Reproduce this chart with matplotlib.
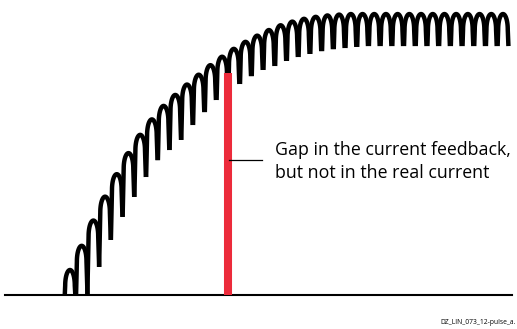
import numpy as np
import matplotlib.pyplot as plt

# peak of each current pulse (% of final current), one value per 12-pulse ripple
peak_current = [8.9, 17.5, 26.5, 35.0, 43.0, 50.5, 57.0, 62.5, 67.3, 71.2,
                74.9, 78.4, 81.8, 84.8, 87.6, 90.1, 92.3, 94.3, 96.0, 97.3,
                98.3, 99.0, 99.5, 99.8, 100, 100, 100, 100, 100, 100,
                100, 100, 100, 100, 100, 100, 100, 100]
# lowest point reached by the falling edge of each pulse
trough_current = [0, 0, 10.0, 19.6, 27.8, 34.9, 42.0, 48.0, 51.6, 55.2,
                  60.5, 65.1, 69.4, 72.2, 75.1, 77.9, 80.1, 81.5, 83.3, 84.7,
                  85.8, 86.8, 87.5, 87.9, 88.3, 88.6, 88.6, 88.6, 88.6, 88.6,
                  88.6, 88.6, 88.6, 88.6, 88.6, 88.6, 88.6, 88.6]

gap_time = 13.5      # pulse position of the feedback gap
gap_level = 79.0     # current level where the gap marker ends
label = "Gap in the current feedback,\nbut not in the real current"
code = "DZ_LIN_073_12-pulse_a."

pulse = np.arange(len(peak_current))

fig = plt.figure(figsize=(5.17, 3.29), dpi=100)
ax = fig.add_axes([0, 0, 1, 1])
ax.set_xlim(-5.98, 38.2)
ax.set_ylim(-12.1, 105.0)
ax.axis("off")

# baseline
ax.axhline(0, xmin=0.01, xmax=0.99, color="black", lw=1.5, zorder=1)

# arches
a = 0.41
h = 5.5
phi = np.linspace(-np.pi / 2, np.pi / 2, 40)
for k in pulse:
    p = peak_current[k]
    right_end = max(trough_current[k], 0)
    left_end = 0 if k == 0 else max(trough_current[k - 1], 0)
    top_x = pulse[k] + a * np.sin(phi)
    top_y = np.clip(p - h * (1 - np.cos(phi)), 0, None)
    lean_l = 0.004 * (p - left_end)
    lean_r = 0.005 * (p - right_end)
    xs = np.concatenate([[pulse[k] - a - lean_l], top_x, [pulse[k] + a + lean_r]])
    ys = np.concatenate([[min(left_end, top_y[0])], top_y, [min(right_end, top_y[-1])]])
    ax.plot(xs, ys, color="black", lw=3.2, solid_capstyle="butt",
            solid_joinstyle="round", zorder=2)

# red gap marker
ax.plot([gap_time, gap_time], [0, gap_level], color="#EC2B3B", lw=5.8,
        solid_capstyle="butt", zorder=3)

# annotation
ax.plot([gap_time + 0.05, gap_time + 2.95], [48.0, 48.0], color="black", lw=0.9, zorder=3)
ax.text(gap_time + 4.0, 47.6, label, fontsize=12.8, family="Open Sans",
        ha="left", va="center", linespacing=1.35)

ax.text(0.997, 0.02, code, transform=ax.transAxes, fontsize=4.9,
        family="Open Sans", ha="right", va="center")

fig.savefig("out.png", dpi=100)
